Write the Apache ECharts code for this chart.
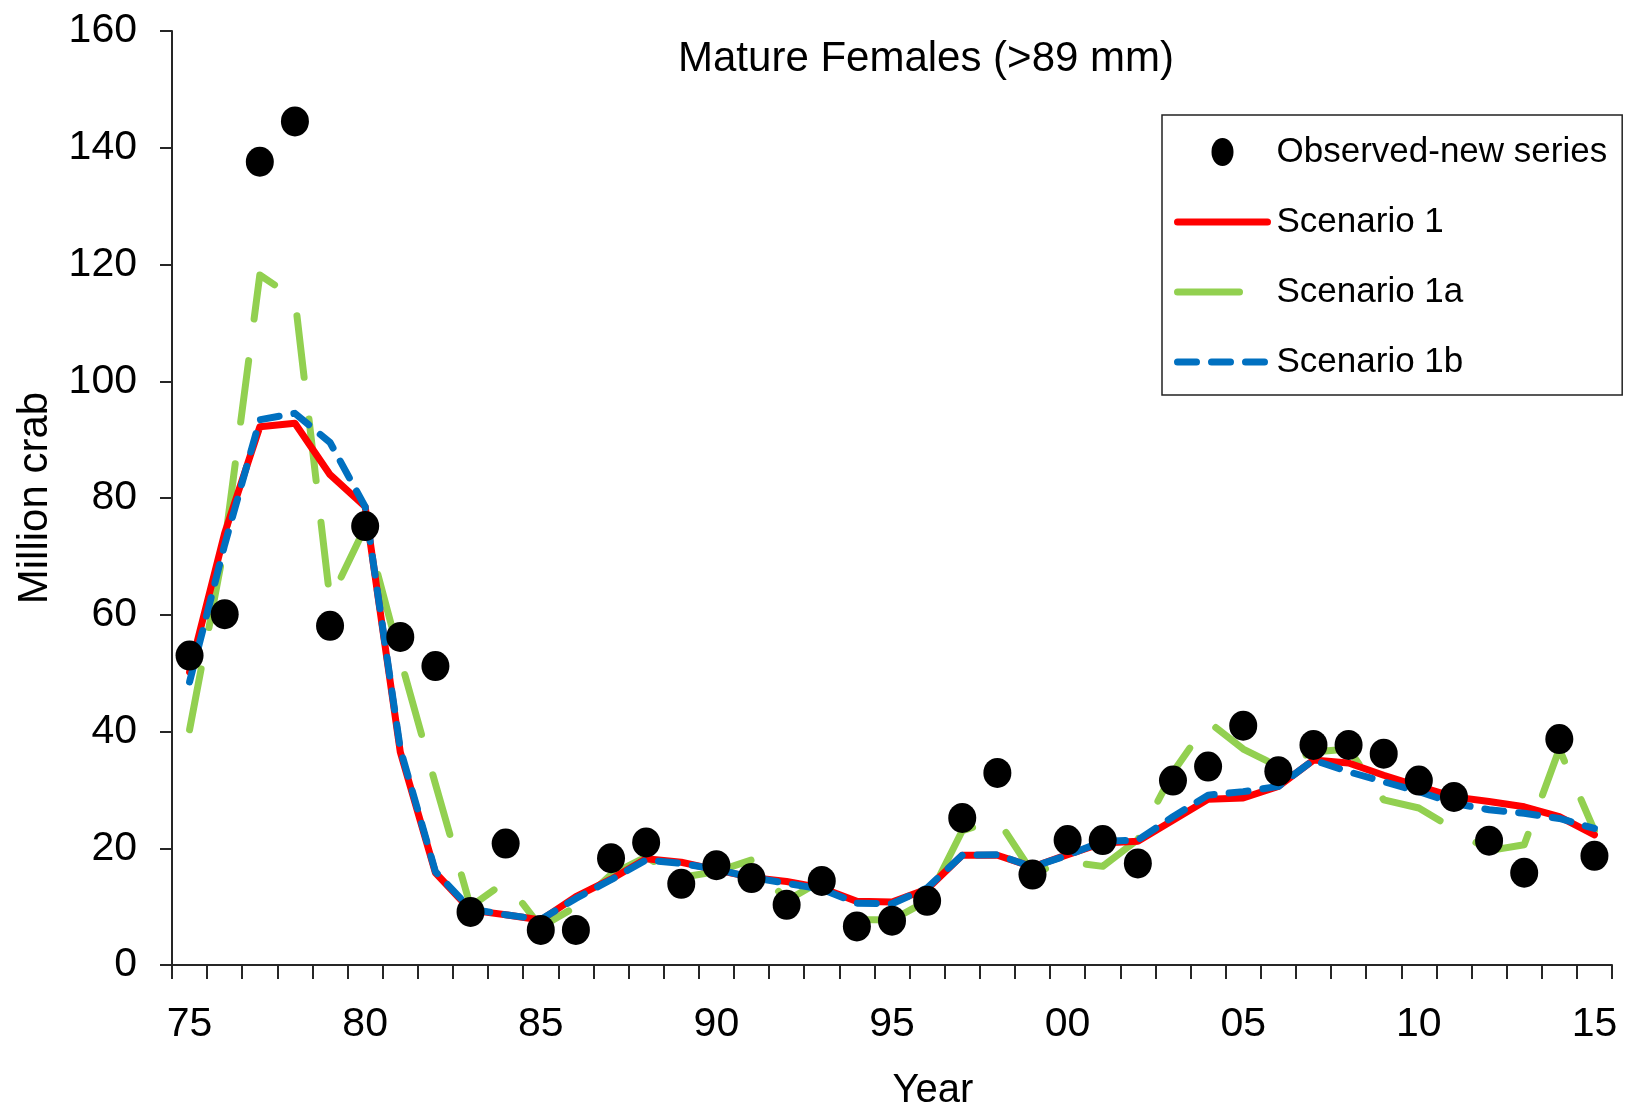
<!DOCTYPE html>
<html>
<head>
<meta charset="utf-8">
<script src="https://cdn.jsdelivr.net/npm/echarts@6/dist/echarts.min.js"></script>
<style>
  html, body { margin: 0; padding: 0; background: #fff; }
  #chart { width: 1627px; height: 1112px; }
</style>
</head>
<body>
<div id="chart"></div>
<script>
// Year tick labels (1975 - 2015)
const yearLabels = ['75','76','77','78','79','80','81','82','83','84','85','86','87','88','89','90','91','92','93','94','95','96','97','98','99','00','01','02','03','04','05','06','07','08','09','10','11','12','13','14','15'];

// Observed-new series (million crab)
const observed = [53.0, 60.1, 137.6, 144.5, 58.1, 75.2, 56.2, 51.2, 9.1, 20.8,
                  6.0, 6.0, 18.3, 21.0, 13.9, 17.1, 14.9, 10.3, 14.4, 6.6,
                  7.6, 11.0, 25.2, 32.9, 15.5, 21.4, 21.4, 17.4, 31.6, 34.0,
                  41.0, 33.2, 37.7, 37.7, 36.2, 31.6, 28.8, 21.3, 15.8, 38.7,
                  18.7];

// Scenario 1
const scenario1 = [50.2, 74.0, 92.2, 92.8, 84.0, 78.5, 36.5, 15.8, 9.4, 8.6,
                   7.7, 11.7, 14.7, 18.2, 17.6, 16.3, 15.0, 14.3, 13.2, 10.9,
                   10.8, 13.0, 18.8, 18.8, 16.8, 18.9, 20.9, 21.2, 24.8, 28.4,
                   28.6, 30.6, 35.1, 34.6, 32.5, 30.6, 28.8, 28.0, 27.1, 25.4,
                   22.3];

// Scenario 1a
const scenario1a = [40.3, 72.0, 118.2, 114.2, 62.5, 75.0, 52.5, 31.0, 10.0, 14.3,
                    6.5, 10.0, 15.5, 18.5, 15.0, 16.0, 18.0, 11.0, 14.5, 7.8,
                    7.7, 11.0, 23.0, 25.0, 15.8, 17.7, 16.9, 21.5, 33.0, 41.7,
                    37.0, 34.0, 36.5, 37.0, 28.3, 26.9, 23.3, 19.6, 20.6, 37.0,
                    23.0];

// Scenario 1b
const scenario1b = [48.5, 72.0, 93.4, 94.5, 89.5, 78.5, 37.0, 16.0, 9.6, 8.6,
                    7.8, 11.4, 14.6, 18.0, 17.4, 16.4, 15.0, 14.0, 13.0, 10.6,
                    10.5, 13.2, 18.8, 18.9, 16.8, 18.8, 21.2, 21.4, 25.4, 29.1,
                    29.7, 30.6, 35.1, 33.1, 31.4, 29.7, 27.7, 26.6, 26.0, 25.1,
                    23.4];

const seriesNames = ['Observed-new series', 'Scenario 1', 'Scenario 1a', 'Scenario 1b'];
const yTicks = { min: 0, max: 160, interval: 20 };

const FONT = "'Liberation Sans', Arial, sans-serif";
const chart = echarts.init(document.getElementById('chart'), null, { renderer: 'canvas' });

const hiddenSymbol = { color: 'rgba(0,0,0,0)', borderColor: 'rgba(0,0,0,0)', borderWidth: 0, opacity: 0 };

const option = {
  animation: false,
  backgroundColor: '#ffffff',
  textStyle: { fontFamily: FONT, color: '#000' },
  grid: { left: 172, right: 15, top: 31, bottom: 147, containLabel: false, outerBoundsMode: 'none' },
  graphic: [
    {
      type: 'text', x: 926, y: 59, z: 20,
      style: { text: 'Mature Females (>89 mm)', fontSize: 42, fontFamily: FONT, fill: '#000',
               textAlign: 'center', textVerticalAlign: 'middle' }
    },
    {
      type: 'text', x: 933, y: 1091, z: 20,
      style: { text: 'Year', fontSize: 40, fontFamily: FONT, fill: '#000',
               textAlign: 'center', textVerticalAlign: 'middle' }
    }
  ],
  legend: {
    orient: 'vertical',
    left: 1162,
    top: 115,
    data: [
      { name: seriesNames[0], icon: 'path://M11,0 A11,14 0 1,1 11,28 A11,14 0 1,1 11,0 Z',
        itemStyle: { color: '#000', opacity: 1 } },
      { name: seriesNames[1], itemStyle: hiddenSymbol },
      { name: seriesNames[2], itemStyle: hiddenSymbol },
      { name: seriesNames[3], itemStyle: hiddenSymbol }
    ],
    itemWidth: 90,
    itemHeight: 28,
    itemGap: 30,
    padding: [17, 15, 13, 12],
    borderColor: '#222',
    borderWidth: 1.5,
    lineStyle: { width: 7 },
    textStyle: { fontSize: 35, fontFamily: FONT, color: '#000', lineHeight: 40, padding: [0, 0, 0, 4] }
  },
  xAxis: {
    type: 'category',
    data: yearLabels,
    boundaryGap: true,
    axisLine: { show: true, lineStyle: { color: '#262626', width: 2 } },
    axisTick: { show: true, interval: 0, length: 14, inside: false, alignWithLabel: false,
                lineStyle: { color: '#262626', width: 2 } },
    axisLabel: { interval: 4, fontSize: 41, fontFamily: FONT, color: '#000', margin: 39 },
    splitLine: { show: false }
  },
  yAxis: {
    type: 'value',
    min: yTicks.min, max: yTicks.max, interval: yTicks.interval,
    name: 'Million crab',
    nameLocation: 'middle',
    nameRotate: 90,
    nameGap: 116,
    nameTextStyle: { fontSize: 42, fontFamily: FONT, color: '#000' },
    axisLine: { show: true, lineStyle: { color: '#262626', width: 2 } },
    axisTick: { show: true, length: 12, inside: false, lineStyle: { color: '#262626', width: 2 } },
    axisLabel: { fontSize: 41, fontFamily: FONT, color: '#000', margin: 35 },
    splitLine: { show: false }
  },
  series: [
    {
      name: seriesNames[2], type: 'line', data: scenario1a, symbol: 'none', z: 2,
      itemStyle: { color: '#92D050' },
      lineStyle: { color: '#92D050', width: 7, type: [62, 42], cap: 'round', join: 'round' }
    },
    {
      name: seriesNames[1], type: 'line', data: scenario1, symbol: 'none', z: 3,
      itemStyle: { color: '#FF0000' },
      lineStyle: { color: '#FF0000', width: 7, type: 'solid', cap: 'round', join: 'round' }
    },
    {
      name: seriesNames[3], type: 'line', data: scenario1b, symbol: 'none', z: 4,
      itemStyle: { color: '#0070C0' },
      lineStyle: { color: '#0070C0', width: 7, type: [19, 15], cap: 'round', join: 'round' }
    },
    {
      name: seriesNames[0], type: 'scatter', data: observed, z: 10,
      symbol: 'circle', symbolSize: [28, 30],
      itemStyle: { color: '#000000', opacity: 1 }
    }
  ]
};

chart.setOption(option);
</script>
</body>
</html>
